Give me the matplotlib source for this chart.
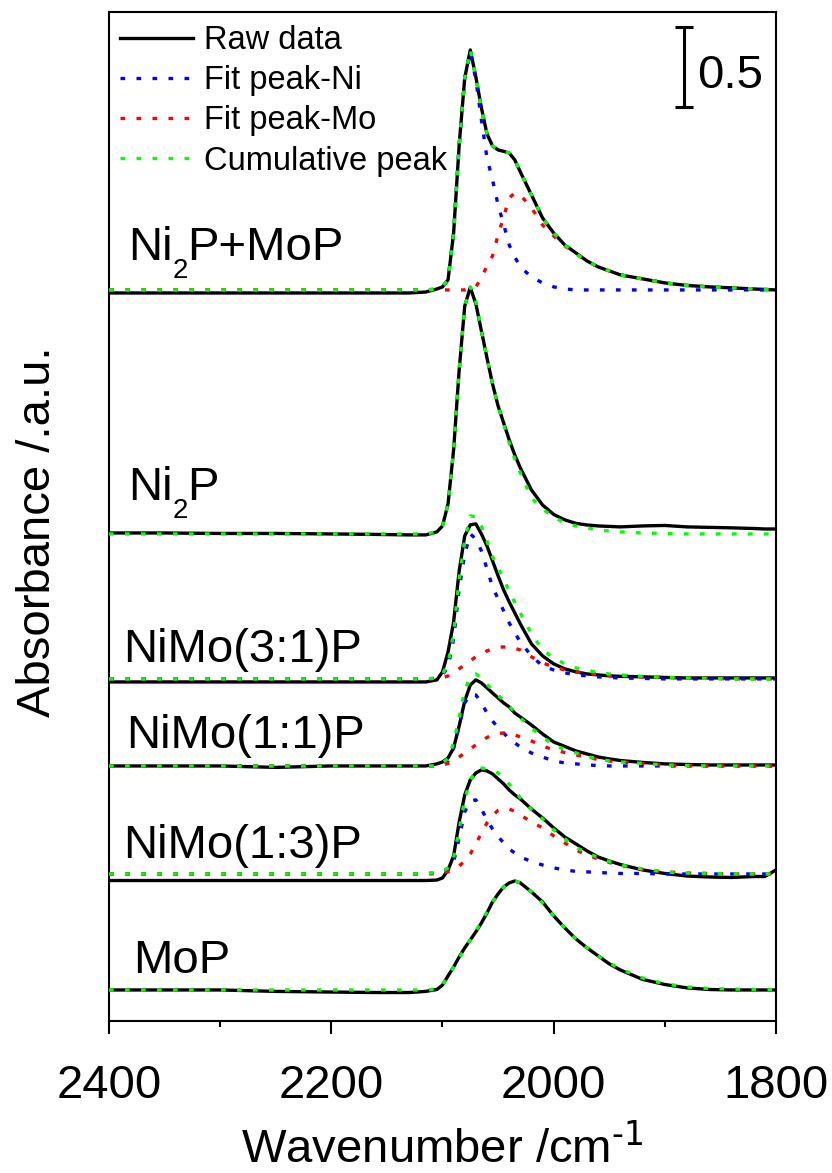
import numpy as np
import matplotlib.pyplot as plt

plt.rcParams['font.family'] = ['Liberation Sans', 'DejaVu Sans']
plt.rcParams['mathtext.default'] = 'regular'

# wavenumber grid (cm-1), shared by every trace below
wavenumber = [2400, 2350, 2300, 2250, 2200, 2160, 2130, 2115, 2105, 2100,
              2095, 2090, 2085, 2080, 2075, 2070, 2065, 2060, 2055, 2050,
              2045, 2040, 2035, 2030, 2020, 2010, 2000, 1990, 1980, 1970,
              1960, 1950, 1940, 1920, 1900, 1880, 1860, 1840, 1820, 1810, 1800]

# "_" marks the subscript digit
samples = ["Ni_2P+MoP", "Ni_2P", "NiMo(3:1)P", "NiMo(1:1)P", "NiMo(1:3)P", "MoP"]

# absorbance above each sample's own baseline
raw_ni2p_mop = [-0.019, -0.019, -0.019, -0.019, -0.019, -0.019, -0.019, -0.013, 0.006, 0.019,
                0.063, 0.356, 0.906, 1.325, 1.5, 1.331, 1.138, 0.975, 0.9, 0.875,
                0.866, 0.856, 0.813, 0.738, 0.594, 0.45, 0.356, 0.281, 0.231, 0.181,
                0.144, 0.119, 0.094, 0.069, 0.044, 0.028, 0.019, 0.013, 0.006, 0.003, 0]
ni_ni2p_mop = [0, 0, 0, 0, 0, 0, 0, 0, 0.006, 0.019,
               0.063, 0.356, 0.906, 1.325, 1.488, 1.313, 1.063, 0.825, 0.688, 0.531,
               0.41, 0.281, 0.206, 0.144, 0.081, 0.044, 0.019, 0.006, 0, 0,
               0, 0, 0, 0, 0, 0, 0, 0, 0, 0, 0]
mo_ni2p_mop = [0, 0, 0, 0, 0, 0, 0, 0, 0, 0,
               0, 0, 0, 0, 0.013, 0.019, 0.075, 0.15, 0.213, 0.344,
               0.456, 0.575, 0.606, 0.594, 0.513, 0.406, 0.338, 0.275, 0.225, 0.181,
               0.144, 0.119, 0.094, 0.069, 0.044, 0.028, 0.019, 0.013, 0.006, 0.003, 0]

raw_ni2p = [0.006, 0.006, 0.003, 0.003, 0, -0.003, -0.006, -0.006, 0.013, 0.05,
            0.188, 0.525, 1.025, 1.425, 1.541, 1.438, 1.269, 1.1, 0.938, 0.8,
            0.694, 0.588, 0.494, 0.413, 0.275, 0.181, 0.122, 0.088, 0.066, 0.056,
            0.05, 0.047, 0.044, 0.05, 0.053, 0.044, 0.041, 0.038, 0.034, 0.031, 0.031]
ni_ni2p = [0, 0, 0, 0, 0, 0, 0, 0, 0.013, 0.05,
           0.188, 0.525, 1.025, 1.425, 1.544, 1.45, 1.269, 1.1, 0.938, 0.8,
           0.688, 0.569, 0.469, 0.381, 0.225, 0.156, 0.106, 0.069, 0.05, 0.038,
           0.025, 0.019, 0.013, 0.006, 0.003, 0, 0, 0, 0, 0, 0]

raw_31 = [-0.019, -0.019, -0.019, -0.019, -0.019, -0.019, -0.019, -0.019, -0.006, 0.044,
          0.169, 0.356, 0.675, 0.894, 0.963, 0.969, 0.906, 0.831, 0.738, 0.644,
          0.556, 0.481, 0.413, 0.344, 0.219, 0.144, 0.094, 0.063, 0.044, 0.031,
          0.025, 0.019, 0.016, 0.013, 0.009, 0.006, 0.006, 0.006, 0.006, 0.006, 0.006]
ni_31 = [0, 0, 0, 0, 0, 0, 0, 0, 0.003, 0.025,
         0.075, 0.25, 0.563, 0.781, 0.906, 0.875, 0.8, 0.688, 0.575, 0.5,
         0.425, 0.35, 0.288, 0.231, 0.144, 0.081, 0.056, 0.038, 0.025, 0.019,
         0.013, 0.009, 0.006, 0.003, 0, 0, 0, 0, 0, 0, 0]
mo_31 = [0, 0, 0, 0, 0, 0, 0, 0, 0.003, 0.006,
         0.019, 0.038, 0.063, 0.088, 0.113, 0.138, 0.156, 0.175, 0.188, 0.197,
         0.2, 0.197, 0.191, 0.181, 0.138, 0.1, 0.075, 0.056, 0.044, 0.034,
         0.028, 0.022, 0.019, 0.013, 0.009, 0.006, 0.003, 0, 0, 0, 0]

raw_11 = [0, 0, 0, -0.009, 0, 0, 0, 0, 0.013, 0.025,
          0.05, 0.113, 0.25, 0.406, 0.506, 0.538, 0.519, 0.488, 0.456, 0.425,
          0.394, 0.369, 0.331, 0.306, 0.256, 0.2, 0.15, 0.122, 0.094, 0.075,
          0.056, 0.044, 0.034, 0.022, 0.013, 0.009, 0.006, 0.006, 0.006, 0.006, 0.006]
ni_11 = [0, 0, 0, 0, 0, 0, 0, 0, 0, 0.013,
         0.031, 0.113, 0.25, 0.394, 0.45, 0.444, 0.394, 0.331, 0.281, 0.238,
         0.206, 0.169, 0.144, 0.119, 0.081, 0.056, 0.031, 0.019, 0.013, 0.006,
         0.003, 0, 0, 0, 0, 0, 0, 0, 0, 0, 0]
mo_11 = [0, 0, 0, 0, 0, 0, 0, 0, 0, 0.006,
         0.016, 0.031, 0.056, 0.081, 0.106, 0.131, 0.156, 0.178, 0.194, 0.203,
         0.206, 0.203, 0.194, 0.181, 0.156, 0.125, 0.1, 0.084, 0.069, 0.053,
         0.041, 0.031, 0.025, 0.016, 0.006, 0.003, 0, 0, 0, 0, 0]

raw_13 = [-0.041, -0.041, -0.041, -0.041, -0.041, -0.041, -0.041, -0.041, -0.038, -0.025,
          0.025, 0.113, 0.325, 0.494, 0.588, 0.631, 0.65, 0.644, 0.625, 0.594,
          0.563, 0.525, 0.494, 0.469, 0.406, 0.35, 0.288, 0.231, 0.188, 0.144,
          0.106, 0.081, 0.059, 0.025, 0.003, -0.013, -0.019, -0.022, -0.016, -0.016, 0.025]
ni_13 = [0, 0, 0, 0, 0, 0, 0, 0, 0.003, 0.009,
         0.025, 0.075, 0.225, 0.388, 0.456, 0.463, 0.406, 0.338, 0.281, 0.234,
         0.194, 0.156, 0.131, 0.106, 0.078, 0.056, 0.038, 0.025, 0.016, 0.013,
         0.009, 0.006, 0.003, 0.003, 0, 0, 0, 0, 0, 0, 0]
mo_13 = [0, 0, 0, 0, 0, 0, 0, 0.003, 0.006, 0.009,
         0.013, 0.028, 0.05, 0.081, 0.125, 0.188, 0.256, 0.319, 0.366, 0.397,
         0.409, 0.406, 0.391, 0.369, 0.325, 0.288, 0.238, 0.194, 0.15, 0.119,
         0.094, 0.072, 0.053, 0.028, 0.013, 0.006, 0.003, 0, 0, 0, 0]

raw_mop = [0, 0, 0, -0.009, -0.013, -0.016, -0.016, -0.009, 0.003, 0.031,
           0.088, 0.144, 0.206, 0.263, 0.313, 0.363, 0.419, 0.481, 0.55, 0.6,
           0.644, 0.669, 0.681, 0.669, 0.613, 0.55, 0.463, 0.388, 0.319, 0.263,
           0.213, 0.163, 0.125, 0.066, 0.034, 0.013, 0.003, 0, 0, 0, 0]
mo_mop = [0, 0, 0, 0, 0, 0, 0, 0, 0.006, 0.031,
          0.088, 0.144, 0.2, 0.259, 0.313, 0.369, 0.425, 0.488, 0.55, 0.6,
          0.644, 0.672, 0.681, 0.669, 0.613, 0.544, 0.463, 0.388, 0.319, 0.263,
          0.213, 0.169, 0.131, 0.075, 0.038, 0.019, 0.009, 0.006, 0.003, 0.003, 0.003]

raw = [raw_ni2p_mop, raw_ni2p, raw_31, raw_11, raw_13, raw_mop]
ni_fit = [ni_ni2p_mop, ni_ni2p, ni_31, ni_11, ni_13, None]
mo_fit = [mo_ni2p_mop, None, mo_31, mo_11, mo_13, mo_mop]

# vertical stacking of the spectra and where the sample names go
offsets = [4.569, 3.044, 2.138, 1.594, 0.919, 0.194]
label_y = [4.756, 3.256, 2.244, 1.704, 1.017, 0.30]
label_x = [0.028, 0.028, 0.021, 0.025, 0.021, 0.036]

DOT = (0, (1.4, 3.4))
LW = 2.4


def draw_label(ax, x, y, text):
    """
    Writes a sample name; a digit after "_" is set as a lowered subscript
    """
    trans = ax.get_yaxis_transform()
    if "_" not in text:
        ax.text(x, y, text, transform=trans, fontsize=34, va="baseline")
        return
    head, tail = text.split("_")
    t1 = ax.text(x, y, head, transform=trans, fontsize=34, va="baseline")
    t2 = ax.annotate(tail[0], xy=(1, y), xycoords=(t1, "data"), xytext=(0, -13),
                     textcoords="offset points", fontsize=20, va="baseline")
    ax.annotate(tail[1:], xy=(1, y), xycoords=(t2, "data"), fontsize=34, va="baseline")


def draw_sample(ax, i):
    """
    Draws raw spectrum, the fitted components and their sum for sample i
    """
    x = np.array(wavenumber)
    base = offsets[i]
    ax.plot(x, base + np.array(raw[i]), color="black", lw=LW, zorder=2)
    total = np.zeros(len(x))
    both = ni_fit[i] is not None and mo_fit[i] is not None
    if ni_fit[i] is not None:
        total += np.array(ni_fit[i])
        if both:
            ax.plot(x, base + np.array(ni_fit[i]), color="#0000ff", lw=LW, ls=DOT, zorder=3)
    if mo_fit[i] is not None:
        total += np.array(mo_fit[i])
        if both:
            ax.plot(x, base + np.array(mo_fit[i]), color="#ff0000", lw=LW, ls=DOT, zorder=3)
    ax.plot(x, base + total, color="#00ff00", lw=LW, ls=DOT, zorder=4)
    draw_label(ax, label_x[i], label_y[i], samples[i])


fig = plt.figure(figsize=(8.32, 11.73), dpi=100)
ax = fig.add_axes([109 / 832, 1 - 1021 / 1173, 667 / 832, 1009 / 1173])

for i in range(len(samples)):
    draw_sample(ax, i)

ax.set_xlim(2400, 1800)
ax.set_ylim(0, 6.306)
ax.set_xticks([2400, 2200, 2000, 1800])
ax.set_xticks([2300, 2100, 1900], minor=True)
ax.set_yticks([])
ax.tick_params(axis="x", which="major", direction="out", length=9, width=1.5,
               labelsize=34, pad=22)
ax.tick_params(axis="x", which="minor", direction="out", length=4.5, width=1.5)
for s in ax.spines.values():
    s.set_linewidth(1.5)

ax.set_xlabel("Wavenumber /cm$^{\\text{-1}}$", fontsize=34, labelpad=12)
ax.set_ylabel("Absorbance /.a.u.", fontsize=34)
ax.yaxis.set_label_coords(-0.0735, 0.4846)

# 0.5 absorbance scale bar
ax.errorbar([1882.5], [5.961], yerr=[0.25], fmt="none", ecolor="black",
            elinewidth=2.2, capsize=6.4, capthick=2.2)
ax.text(1871, 5.829, "0.5", fontsize=34, va="baseline", ha="left")

handles = [
    plt.Line2D([], [], color="black", lw=LW),
    plt.Line2D([], [], color="#0000ff", lw=LW, ls=DOT),
    plt.Line2D([], [], color="#ff0000", lw=LW, ls=DOT),
    plt.Line2D([], [], color="#00ff00", lw=LW, ls=DOT),
]
names = ["Raw data", "Fit peak-Ni", "Fit peak-Mo", "Cumulative peak"]
ax.legend(handles, names, loc="upper left", bbox_to_anchor=(0.0165, 0.987),
          frameon=False, fontsize=23.5, handlelength=2.24, handletextpad=0.34,
          labelspacing=0.28, borderpad=0, borderaxespad=0)

fig.savefig("out.png", dpi=100)
